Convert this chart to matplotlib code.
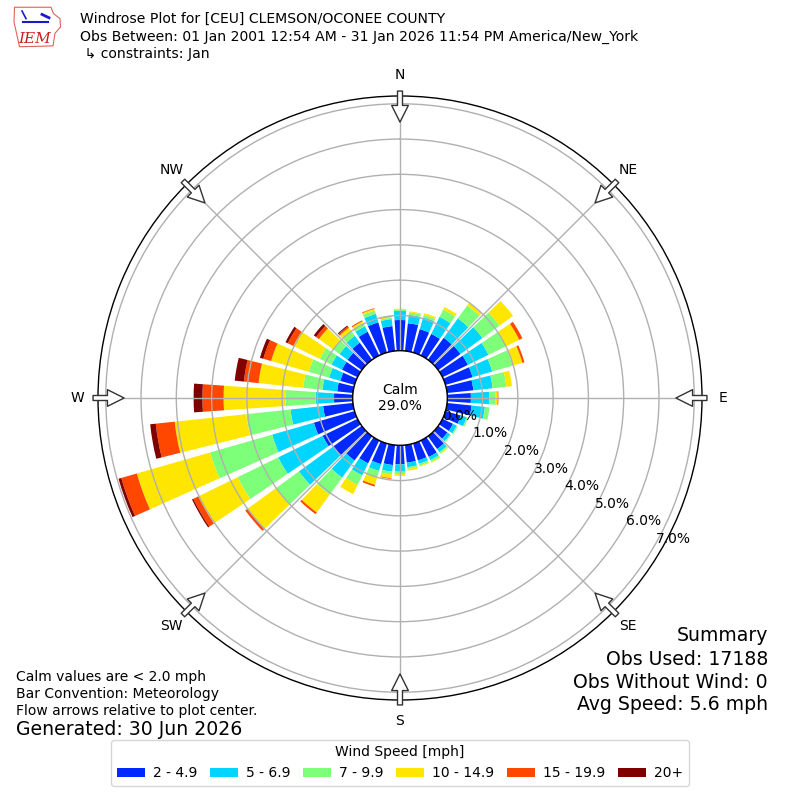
import numpy as np
import matplotlib
matplotlib.use("Agg")
import matplotlib.pyplot as plt
from matplotlib.patches import Circle, Polygon
from matplotlib.transforms import offset_copy

# Directions (deg, meteorological) and speed bins
directions = np.arange(0, 360, 10)
speed_labels = ["2 - 4.9", "5 - 6.9", "7 - 9.9", "10 - 14.9", "15 - 19.9", "20+"]
calm_pct = 29.0

# cumulative percent at the top of each speed band, one value per direction
top_2 = [0.87, 0.79, 0.69, 0.68, 0.77, 0.78, 0.80, 0.80, 0.75, 0.67, 0.70, 0.45,
         0.33, 0.32, 0.45, 0.52, 0.50, 0.50, 0.54, 0.57, 0.61, 0.72, 0.85, 1.00,
         1.10, 1.20, 0.85, 0.53, 0.45, 0.42, 0.49, 0.50, 0.60, 0.75, 0.89, 0.71]
top_5 = [1.13, 1.03, 1.04, 1.22, 1.45, 1.55, 1.45, 1.38, 1.30, 1.19, 1.08, 0.62,
         0.45, 0.42, 0.56, 0.62, 0.60, 0.63, 0.75, 0.76, 0.81, 1.10, 1.45, 2.20,
         2.50, 2.43, 1.78, 1.05, 0.87, 0.75, 0.82, 0.78, 0.84, 0.92, 1.14, 0.91]
top_7 = [1.16, 1.10, 1.11, 1.45, 1.90, 2.15, 2.00, 1.98, 1.69, 1.36, 1.21, 0.66,
         0.48, 0.45, 0.60, 0.68, 0.65, 0.68, 0.82, 0.84, 1.01, 1.40, 2.05, 3.00,
         3.78, 4.26, 3.04, 1.90, 1.42, 1.35, 1.19, 1.00, 1.00, 1.03, 1.24, 0.95]
top_10 = [1.19, 1.13, 1.16, 1.53, 2.00, 2.62, 2.42, 2.27, 1.85, 1.43, 1.21, 0.66,
          0.48, 0.45, 0.62, 0.70, 0.68, 0.73, 0.87, 0.95, 1.22, 1.69, 2.67, 4.00,
          5.02, 6.42, 5.08, 3.66, 2.69, 2.46, 2.02, 1.50, 1.12, 1.08, 1.29, 0.98]
top_15 = [1.19, 1.13, 1.16, 1.53, 2.00, 2.62, 2.52, 2.33, 1.85, 1.45, 1.21, 0.66,
          0.48, 0.45, 0.62, 0.70, 0.68, 0.73, 0.87, 0.97, 1.27, 1.69, 2.73, 4.08,
          5.18, 6.88, 5.62, 4.26, 3.11, 2.69, 2.20, 1.60, 1.17, 1.11, 1.31, 1.00]
top_20 = [1.19, 1.13, 1.16, 1.53, 2.00, 2.62, 2.52, 2.33, 1.85, 1.45, 1.21, 0.66,
          0.48, 0.45, 0.62, 0.70, 0.68, 0.73, 0.87, 0.97, 1.27, 1.69, 2.73, 4.08,
          5.22, 6.96, 5.78, 4.51, 3.37, 2.79, 2.27, 1.68, 1.20, 1.11, 1.31, 1.00]

ring_ticks = [0, 1, 2, 3, 4, 5, 6, 7]
compass = ["N", "NE", "E", "SE", "S", "SW", "W", "NW"]

tops = np.array([top_2, top_5, top_7, top_10, top_15, top_20])
bottoms = np.vstack([np.zeros(len(directions)), tops[:-1]])
colors = plt.cm.jet(np.linspace(1 / 6.0, 1.0, 6))

fig = plt.figure(figsize=(8, 8), dpi=100)
ax = fig.add_axes([0.1225, 0.125, 0.755, 0.755], projection="polar")
ax.set_theta_zero_location("N")
ax.set_theta_direction(-1)

theta = np.deg2rad(directions)
width = np.deg2rad(10) * 0.8
bars = []
for i in range(6):
    b = ax.bar(theta, tops[i] - bottoms[i], width=width, bottom=bottoms[i],
               color=colors[i], linewidth=0, label=speed_labels[i])
    bars.append(b)

ax.set_ylim(0, 7.22)
ax.set_rorigin(-1.34)
ax.set_xticks(np.deg2rad(np.arange(0, 360, 45)))
ax.set_xticklabels([])
ax.set_yticks(ring_ticks[1:])
ax.set_yticklabels([])
ax.set_axisbelow(False)
ax.grid(True, color="#b0b0b0", linewidth=1.0)
ax.spines["polar"].set_linewidth(1.0)

# calm circle in the middle
ax.add_patch(Circle((0.5, 0.5), 47.3 / 604, transform=ax.transAxes,
                    facecolor="white", edgecolor="black", linewidth=1.0,
                    zorder=4, clip_on=False))
ax.text(0.5, 0.5, "Calm\n%.1f%%" % calm_pct, transform=ax.transAxes,
        ha="center", va="center", fontsize=10, zorder=5)

# ring labels
lbl_tr = offset_copy(ax.transData, fig=fig, x=19, y=6, units="dots")
for k in ring_ticks:
    ax.text(np.deg2rad(120), k, "%.1f%%" % k, transform=lbl_tr,
            ha="center", va="center", fontsize=10, zorder=6)

# compass labels and inward flow arrows
for i, name in enumerate(compass):
    th = np.deg2rad(i * 45)
    ax.text(th, 7.81, name, ha="center", va="center", fontsize=10)
    ax.annotate("", xy=(th, 6.48), xytext=(th, 7.36),
                arrowprops=dict(arrowstyle="simple,head_length=0.6,head_width=0.6,tail_width=0.18",
                                fc="white", ec="#333333", lw=1.0,
                                shrinkA=0, shrinkB=0, mutation_scale=20),
                annotation_clip=False, zorder=7)

# header
fig.text(0.1, 0.976, "Windrose Plot for [CEU] CLEMSON/OCONEE COUNTY", fontsize=10.1, va="center")
fig.text(0.1, 0.954, "Obs Between: 01 Jan 2001 12:54 AM - 31 Jan 2026 11:54 PM America/New_York",
         fontsize=10.1, va="center")
fig.text(0.1, 0.9325, " \u21b3 constraints: Jan", fontsize=10.1, va="center")

# rough IEM logo
lax = fig.add_axes([0.015, 0.94, 0.0625, 0.0525])
lax.set_xlim(0, 1)
lax.set_ylim(0, 1)
lax.axis("off")
lax.add_patch(Polygon([(0.05, 0.97), (0.78, 0.97), (0.83, 0.82), (0.96, 0.7), (0.97, 0.5),
                       (0.86, 0.35), (0.82, 0.05), (0.15, 0.03), (0.1, 0.3), (0.04, 0.62)],
                      closed=True, fill=False, edgecolor="#e06060", linewidth=0.8))
lax.plot([0.22, 0.72], [0.62, 0.62], color="#1a1acc", lw=1.5)
lax.plot([0.2, 0.28], [0.88, 0.7], color="#1a1acc", lw=1.2)
lax.plot([0.6, 0.74], [0.8, 0.72], color="#1a1acc", lw=2)
lax.text(0.45, 0.22, "IEM", color="#cc1f1f", fontsize=11, style="italic",
         family="DejaVu Serif", ha="center", va="center")

# notes
fig.text(0.02, 0.154, "Calm values are < 2.0 mph", fontsize=10, va="center")
fig.text(0.02, 0.133, "Bar Convention: Meteorology", fontsize=10, va="center")
fig.text(0.02, 0.1115, "Flow arrows relative to plot center.", fontsize=10, va="center")
fig.text(0.02, 0.088, "Generated: 30 Jun 2026", fontsize=13.6, va="center")

fig.text(0.96, 0.206, "Summary", fontsize=13.6, ha="right", va="center")
fig.text(0.96, 0.176, "Obs Used: 17188", fontsize=13.6, ha="right", va="center")
fig.text(0.96, 0.1475, "Obs Without Wind: 0", fontsize=13.6, ha="right", va="center")
fig.text(0.96, 0.119, "Avg Speed: 5.6 mph", fontsize=13.6, ha="right", va="center")

fig.legend(handles=bars, labels=speed_labels, loc="lower center",
           bbox_to_anchor=(0.5, 0.009), ncol=6, title="Wind Speed [mph]",
           fontsize=10, title_fontsize=10, handletextpad=0.6, columnspacing=0.9)

fig.savefig("out.png", dpi=100)
